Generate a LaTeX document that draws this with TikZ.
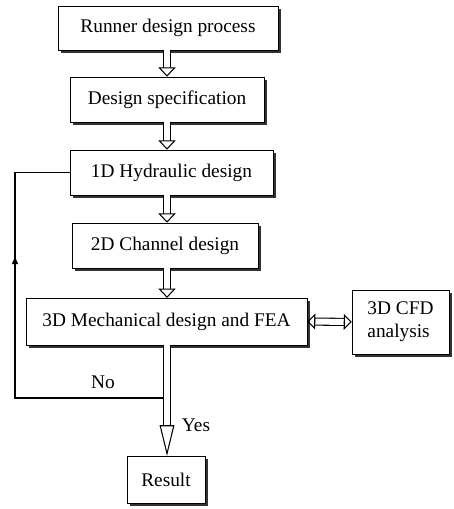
\documentclass[tikz,border=0pt]{standalone}
\usepackage{fontspec}
\setmainfont{Liberation Serif}
\usetikzlibrary{arrows.meta,shadows,decorations.markings}

\begin{document}
\begin{tikzpicture}[x=0.75pt, y=-0.75pt,
    box/.style={draw, thin, fill=white, inner sep=0pt,
        drop shadow={shadow xshift=2.4pt, shadow yshift=-2.4pt, fill=black!80, opacity=1},
        font=\fontsize{14.5}{17}\selectfont},
    dbl/.style={double, double distance=4.5pt, line width=0.8pt,
        -{Triangle[open, width=13pt, length=7pt]}},
    lbl/.style={font=\fontsize{14.5}{17}\selectfont}]
    \useasboundingbox (0,0) rectangle (453,509);

    % boxes
    \node[box, minimum width=165pt, minimum height=33pt] (run) at (168,28) {Runner design process};
    \node[box, minimum width=145.5pt, minimum height=33.75pt] (spec) at (167,99.5) {Design specification};
    \node[box, minimum width=152pt, minimum height=33.75pt] (hyd) at (171.5,172.5) {1D Hydraulic design};
    \node[box, minimum width=139.5pt, minimum height=33.75pt] (chan) at (165,245.5) {2D Channel design};
    \node[box, minimum width=210.75pt, minimum height=35pt] (mech) at (166.5,321.5) {3D Mechanical design and FEA};
    \node[box, minimum width=72.75pt, minimum height=48pt, align=left] (cfd) at (400.5,322) {3D CFD\\analysis};
    \node[box, minimum width=58.5pt, minimum height=35pt] (res) at (166,479.5) {Result};

    \coordinate (ax) at (167,0);

    % main flow
    \draw[dbl] (run.south -| ax) -- (spec.north -| ax);
    \draw[dbl] (spec.south -| ax) -- (hyd.north -| ax);
    \draw[dbl] (hyd.south -| ax) -- (chan.north -| ax);
    \draw[dbl] (chan.south -| ax) -- (mech.north -| ax);
    \draw[dbl, {Triangle[open, width=12pt, length=6pt]}-{Triangle[open, width=12pt, length=6pt]}] (mech.east) -- (cfd.west);
    \draw[dbl, -{Triangle[open, width=11pt, length=23pt]}] (mech.south -| ax) -- (res.north -| ax);

    % feedback loop
    \coordinate (jn) at (163,398);
    \coordinate (lft) at (15,398);
    \draw[line width=1.4pt, postaction={decorate},
        decoration={markings, mark=at position 0.68 with {\arrow{Latex[length=7pt, width=5pt]}}}]
        (jn) -- (lft) -- (lft |- hyd.west) -- (hyd.west);

    \node[lbl] (no) at (103,382) {No};
    \node[lbl] (yes) at (196,425) {Yes};
\end{tikzpicture}
\end{document}
